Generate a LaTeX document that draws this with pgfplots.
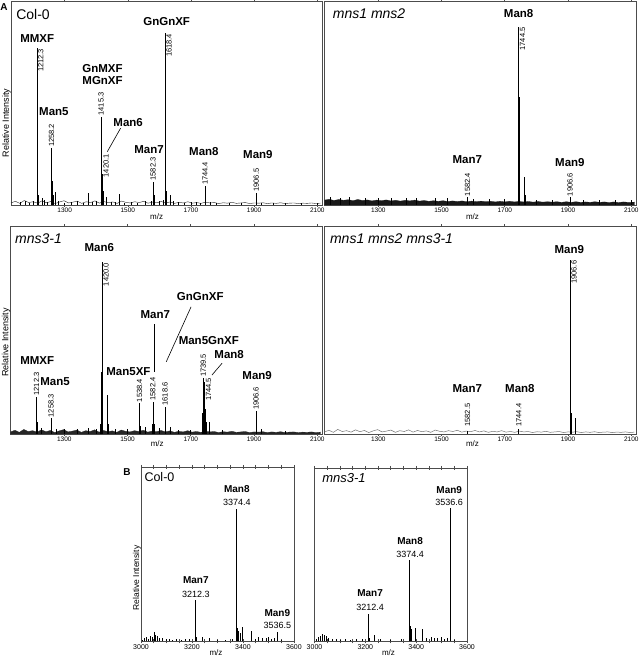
\documentclass[border=0pt]{standalone}
\usepackage{fontspec}
\setmainfont{Liberation Sans}
\setsansfont{Liberation Sans}
\usepackage{pgfplots}
\pgfplotsset{compat=1.18}
\usepackage{pgfplotstable}

\pgfplotstableread{
x y
1130 .010
1144 .018
1158 .008
1172 .022
1186 .012
1200 .016
1214 .009
1228 .020
1242 .011
1256 .017
1270 .007
1284 .015
1298 .021
1312 .010
1326 .014
1340 .019
1354 .008
1368 .016
1382 .012
1396 .020
1410 .009
1424 .017
1438 .011
1452 .015
1466 .008
1480 .019
1494 .013
1508 .010
1522 .016
1536 .012
1550 .018
1564 .009
1578 .014
1592 .011
1606 .017
1620 .010
1634 .015
1648 .008
1662 .013
1676 .010
1690 .016
1704 .009
1718 .012
1732 .008
1746 .014
1760 .010
1774 .012
1788 .007
1802 .011
1816 .009
1830 .013
1844 .008
1858 .010
1872 .012
1886 .007
1900 .010
1914 .009
1928 .011
1942 .007
1956 .010
1970 .008
1984 .011
1998 .007
2012 .009
2026 .010
2040 .007
2054 .009
2068 .008
2082 .010
2096 .007
2110 .009
}\noiseA

\pgfplotstableread{
x y
1130 .024
1145 .028
1160 .022
1175 .027
1190 .023
1205 .026
1220 .021
1235 .027
1250 .022
1265 .025
1280 .020
1295 .024
1310 .021
1325 .025
1340 .020
1355 .023
1370 .019
1385 .023
1400 .020
1415 .024
1430 .019
1445 .022
1460 .018
1475 .021
1490 .018
1505 .021
1520 .017
1535 .020
1550 .017
1565 .020
1580 .016
1595 .019
1610 .016
1625 .019
1640 .016
1655 .018
1670 .015
1685 .018
1700 .015
1715 .018
1730 .015
1745 .017
1760 .015
1775 .017
1790 .014
1805 .017
1820 .014
1835 .016
1850 .014
1865 .016
1880 .013
1895 .016
1910 .013
1925 .016
1940 .013
1955 .015
1970 .013
1985 .016
2000 .013
2015 .015
2030 .012
2045 .015
2060 .012
2075 .015
2090 .013
2110 .014
}\bandA

\pgfplotstableread{
x y
1160 0.015
1175 0.02
1188 0.012
1200 0.018
1212.3 0.77
1214 0.3
1218 0.05
1228 0.034
1236 0.025
1244 0.015
1258.2 0.28
1260 0.12
1264 0.05
1269.4 0.065
1280 0.02
1300 0.012
1320 0.015
1340 0.022
1360 0.012
1375 0.06
1388 0.015
1400 0.018
1415.3 0.434
1416.5 0.25
1418 0.15
1420.1 0.11
1422 0.07
1433 0.04
1448 0.015
1460 0.015
1473 0.054
1490 0.012
1510 0.015
1530 0.012
1555 0.018
1575 0.02
1580 0.06
1582.3 0.115
1584 0.05
1600 0.02
1612 0.025
1618.4 0.844
1620 0.3
1622 0.07
1634 0.05
1645 0.02
1660 0.015
1680 0.012
1700 0.015
1716 0.015
1730 0.012
1744.4 0.093
1746 0.04
1760 0.015
1780 0.01
1820 0.01
1860 0.01
1906.5 0.06
1922 0.012
1960 0.008
2000 0.008
2050 0.008
2100 0.008
}\peaksTL

\pgfplotstableread{
x y
1150 0.04
1180 0.036
1210 0.038
1260 0.036
1300 0.033
1340 0.036
1390 0.034
1420 0.036
1480 0.032
1520 0.032
1582.4 0.038
1600 0.028
1650 0.028
1700 0.027
1744.5 0.876
1745.3 0.53
1747 0.2
1762 0.139
1764 0.05
1800 0.026
1850 0.026
1906.6 0.038
1950 0.026
2000 0.026
2050 0.026
2100 0.026
}\peaksTR

\pgfplotstableread{
x y
1212.3 0.18
1214 0.06
1228 0.03
1258.3 0.075
1274 0.025
1300 0.022
1340 0.022
1375 0.03
1400 0.025
1415 0.05
1418 0.3
1420.0 0.827
1422 0.25
1436 0.188
1438 0.05
1460 0.025
1500 0.025
1538.4 0.148
1540 0.04
1555 0.035
1580 0.05
1582.4 0.156
1584 0.05
1600 0.03
1618.6 0.132
1620 0.05
1634 0.035
1660 0.02
1700 0.02
1737 0.1
1739.5 0.27
1741 0.14
1744.5 0.25
1746 0.12
1750 0.06
1760 0.06
1800 0.02
1906.6 0.11
1908 0.05
1922 0.024
2000 0.015
}\peaksLL

\pgfplotstableread{
x y
1582.5 0.015
1744.4 0.025
1906.6 0.838
1907.5 0.58
1909 0.1
1922 0.076
1924 0.03
}\peaksLR

\pgfplotstableread{
x y
3005 0.01
3012 0.02
3020 0.025
3028 0.015
3035 0.03
3045 0.025
3052 0.055
3058 0.035
3066 0.03
3074 0.02
3085 0.02
3100 0.015
3112 0.012
3125 0.01
3140 0.012
3160 0.01
3175 0.015
3190 0.015
3212.3 0.238
3218 0.025
3240 0.025
3270 0.018
3300 0.008
3330 0.01
3360 0.012
3374.4 0.758
3377 0.08
3381 0.06
3388 0.05
3398 0.085
3432 0.062
3448 0.015
3462 0.025
3475 0.02
3490 0.02
3500 0.025
3512 0.015
3525 0.018
3536.5 0.056
3550 0.01
}\peaksBL

\pgfplotstableread{
x y
3008 0.015
3015 0.025
3022 0.03
3030 0.045
3038 0.035
3046 0.03
3055 0.02
3070 0.015
3085 0.015
3100 0.01
3120 0.012
3140 0.01
3165 0.012
3190 0.015
3212.4 0.158
3215 0.02
3235 0.035
3260 0.015
3300 0.01
3340 0.012
3374.4 0.471
3376 0.09
3380 0.07
3396 0.08
3426 0.072
3440 0.02
3460 0.025
3472 0.02
3485 0.02
3498 0.025
3510 0.015
3522 0.02
3536.6 0.767
3550 0.01
}\peaksBR

\tikzset{
  nm/.style={font=\bfseries\fontsize{11.5}{12}\selectfont, inner sep=0pt},
  nmB/.style={font=\bfseries\fontsize{10}{11}\selectfont, inner sep=0pt},
  numB/.style={font=\fontsize{9}{10}\selectfont, inner sep=0pt},
  pkR/.style={rotate=90, anchor=north east, font=\fontsize{7.5}{8}\selectfont, inner sep=1pt, xshift=0.5pt},
  pkA/.style={rotate=90, anchor=west, font=\fontsize{7.5}{8}\selectfont, inner sep=1pt},
  ttl/.style={anchor=west, font=\fontsize{14}{14}\selectfont, inner sep=0pt},
  ttli/.style={anchor=west, font=\itshape\fontsize{14}{14}\selectfont, inner sep=0pt},
  ri/.style={rotate=90, anchor=south, font=\fontsize{9}{9}\selectfont, inner sep=0pt},
  mz/.style={font=\fontsize{8}{8}\selectfont, inner sep=0pt},
}

\pgfplotsset{
  spec/.style={scale only axis, ymin=0, ymax=1,
    axis line style={black!70, line width=0.8pt},
    ytick=\empty,
    tick align=outside, major tick length=2pt,
    tick style={black!70, line width=0.6pt},
    /pgf/number format/assume math mode=true,
    /pgf/number format/1000 sep={},
    clip=false},
  specA/.style={spec, xmin=1130, xmax=2115,
    xtick={1300,1500,1700,1900,2100},
    xticklabel style={font=\fontsize{6.5}{7}\selectfont, inner sep=1pt}},
  specB/.style={spec, xmin=3000, xmax=3600,
    xtick={3000,3200,3400,3600}, minor xtick={3050,3100,3150,3250,3300,3350,3450,3500,3550},
    tick align=center, major tick length=4pt, minor tick length=4pt,
    xticklabel style={font=\fontsize{7}{7}\selectfont, inner sep=1pt}},
  pk/.style={ycomb, black, line width=0.7pt, mark=none},
}

\begin{document}
\begin{tikzpicture}[x=1pt,y=1pt]
\useasboundingbox (0,0) rectangle (638,658);

\node[font=\bfseries\fontsize{10}{10}\selectfont, inner sep=0pt] at (4,651) {A};
\node[font=\bfseries\fontsize{10}{10}\selectfont, inner sep=0pt] at (127,186) {B};

% ---------- TL: Col-0 ----------
\begin{axis}[specA, at={(11pt,453pt)}, anchor=south west, width=311pt, height=203.5pt]
\addplot[black!85, line width=0.4pt] table[x=x,y=y]{\noiseA};
\addplot[pk] table[x=x,y=y]{\peaksTL};
\node[ttl] at (axis cs:1146,0.934) {Col-0};
\node[nm] at (axis cs:1213,0.819) {MMXF};
\node[nm] at (axis cs:1266,0.458) {Man5};
\node[nm] at (axis cs:1420,0.672) {GnMXF};
\node[nm] at (axis cs:1420,0.614) {MGnXF};
\node[nm] at (axis cs:1501,0.404) {Man6};
\draw[black, line width=0.6pt] (axis cs:1477,0.377) -- (axis cs:1435,0.262);
\node[nm] at (axis cs:1567,0.274) {Man7};
\node[nm] at (axis cs:1741,0.262) {Man8};
\node[nm] at (axis cs:1623,0.90) {GnGnXF};
\node[nm] at (axis cs:1912,0.25) {Man9};
\node[pkR] at (axis cs:1212.3,0.77) {1212.3};
\node[pkA] at (axis cs:1258.2,0.28) {1258.2};
\node[pkA] at (axis cs:1415.3,0.434) {1415.3};
\node[pkA] at (axis cs:1431,0.13) {1420.1};
\node[pkA] at (axis cs:1580,0.115) {1582.3};
\node[pkR] at (axis cs:1618.4,0.844) {1618.4};
\node[pkA] at (axis cs:1744.4,0.093) {1744.4};
\node[pkA] at (axis cs:1906.5,0.06) {1906.5};
\node[ri] at (rel axis cs:0,0.41) [xshift=-1.5pt] {Relative Intensity};
\node[mz] at (axis cs:1591,0) [yshift=-11.5pt] {m/z};
\end{axis}

% ---------- TR: mns1 mns2 ----------
\begin{axis}[specA, at={(324.5pt,453pt)}, anchor=south west, width=311.5pt, height=203.5pt]
\addplot[fill=black!90, draw=black!90, line width=0.3pt] table[x=x,y=y]{\bandA} \closedcycle;
\addplot[pk] table[x=x,y=y]{\peaksTR};
\node[ttli] at (axis cs:1156,0.942) {mns1 mns2};
\node[nm] at (axis cs:1744,0.939) {Man8};
\node[pkR] at (axis cs:1744.5,0.876) {1744.5};
\node[nm] at (axis cs:1581.5,0.225) {Man7};
\node[pkA] at (axis cs:1582.4,0.038) {1582.4};
\node[nm] at (axis cs:1906,0.208) {Man9};
\node[pkA] at (axis cs:1906.6,0.038) {1906.6};
\node[mz] at (axis cs:1598,0) [yshift=-11.5pt] {m/z};
\end{axis}

% ---------- LL: mns3-1 ----------
\begin{axis}[specA, at={(10.5pt,224pt)}, anchor=south west, width=311.5pt, height=207.5pt]
\addplot[fill=black!85, draw=black!85, line width=0.3pt] table[x=x,y=y]{\noiseA} \closedcycle;
\addplot[pk] table[x=x,y=y]{\peaksLL};
\node[ttli] at (axis cs:1144,0.943) {mns3-1};
\node[nm] at (axis cs:1411,0.898) {Man6};
\node[pkR] at (axis cs:1420,0.827) {1420.0};
\node[nm] at (axis cs:1588,0.577) {Man7};
\draw[black, line width=0.9pt] (axis cs:1584.5,0.529) -- (axis cs:1584.5,0.30);
\node[pkA] at (axis cs:1580,0.156) {1582.4};
\node[nm] at (axis cs:1730,0.662) {GnGnXF};
\draw[black, line width=0.6pt] (axis cs:1701,0.613) -- (axis cs:1622.5,0.348);
\node[pkA] at (axis cs:1618.6,0.132) {1618.6};
\node[nm] at (axis cs:1757,0.448) {Man5GnXF};
\node[pkA] at (axis cs:1739.5,0.27) {1739.5};
\node[nm] at (axis cs:1821.5,0.384) {Man8};
\draw[black, line width=0.6pt] (axis cs:1799,0.341) -- (axis cs:1767,0.284);
\node[pkA] at (axis cs:1756,0.154) {1744.5};
\node[nm] at (axis cs:1910,0.284) {Man9};
\node[pkA] at (axis cs:1906.6,0.11) {1906.6};
\node[nm] at (axis cs:1214.6,0.352) {MMXF};
\node[pkA] at (axis cs:1212.3,0.18) {1212.3};
\node[nm] at (axis cs:1271,0.252) {Man5};
\node[pkA] at (axis cs:1258.3,0.075) {1258.3};
\node[nm] at (axis cs:1503,0.30) {Man5XF};
\node[pkA] at (axis cs:1538.4,0.148) {1538.4};
\node[ri] at (rel axis cs:0,0.445) [xshift=-1pt] {Relative Intensity};
\node[mz] at (axis cs:1594,0) [yshift=-9.5pt] {m/z};
\end{axis}

% ---------- LR: mns1 mns2 mns3-1 ----------
\begin{axis}[specA, at={(324.5pt,224pt)}, anchor=south west, width=311.5pt, height=207.5pt]
\addplot[black!55, line width=0.5pt] table[x=x,y=y]{\noiseA};
\addplot[pk] table[x=x,y=y]{\peaksLR};
\node[ttli] at (axis cs:1147,0.943) {mns1 mns2 mns3-1};
\node[nm] at (axis cs:1904,0.887) {Man9};
\node[pkR] at (axis cs:1906.6,0.838) {1906.6};
\node[nm] at (axis cs:1581.5,0.217) {Man7};
\node[pkA] at (axis cs:1582.5,0.03) {1582.5};
\node[nm] at (axis cs:1748,0.217) {Man8};
\node[pkA] at (axis cs:1744.4,0.03) {1744.4};
\node[mz] at (axis cs:1598,0) [yshift=-9.5pt] {m/z};
\end{axis}

% ---------- BL: Col-0 ----------
\begin{axis}[specB, at={(141pt,16.5pt)}, anchor=south west, width=153pt, height=174.5pt]
\addplot[pk, line width=0.8pt] table[x=x,y=y]{\peaksBL};
\node[anchor=west, font=\fontsize{12.5}{13}\selectfont, inner sep=0pt] at (axis cs:3013,0.944) {Col-0};
\node[nmB] at (axis cs:3376,0.872) {Man8};
\node[numB] at (axis cs:3376,0.795) {3374.4};
\node[nmB] at (axis cs:3215,0.352) {Man7};
\node[numB] at (axis cs:3215,0.27) {3212.3};
\node[nmB] at (axis cs:3534.5,0.165) {Man9};
\node[numB] at (axis cs:3535,0.093) {3536.5};
\node[ri, font=\fontsize{8.5}{9}\selectfont] at (rel axis cs:0,0.39) [xshift=-4.5pt] {Relative Intensity};
\node[mz] at (axis cs:3294,0) [yshift=-11.2pt] {m/z};
\end{axis}

% ---------- BR: mns3-1 ----------
\begin{axis}[specB, at={(314.5pt,16.5pt)}, anchor=south west, width=152.5pt, height=173.5pt]
\addplot[pk, line width=0.8pt] table[x=x,y=y]{\peaksBR};
\node[anchor=west, font=\itshape\fontsize{13}{13}\selectfont, inner sep=0pt] at (axis cs:3030,0.944) {mns3-1};
\node[nmB] at (axis cs:3530,0.873) {Man9};
\node[numB] at (axis cs:3530,0.80) {3536.6};
\node[nmB] at (axis cs:3376,0.579) {Man8};
\node[numB] at (axis cs:3376,0.504) {3374.4};
\node[nmB] at (axis cs:3218.5,0.281) {Man7};
\node[numB] at (axis cs:3218.5,0.195) {3212.4};
\node[mz] at (axis cs:3291,0) [yshift=-11.2pt] {m/z};
\end{axis}
\end{tikzpicture}
\end{document}
